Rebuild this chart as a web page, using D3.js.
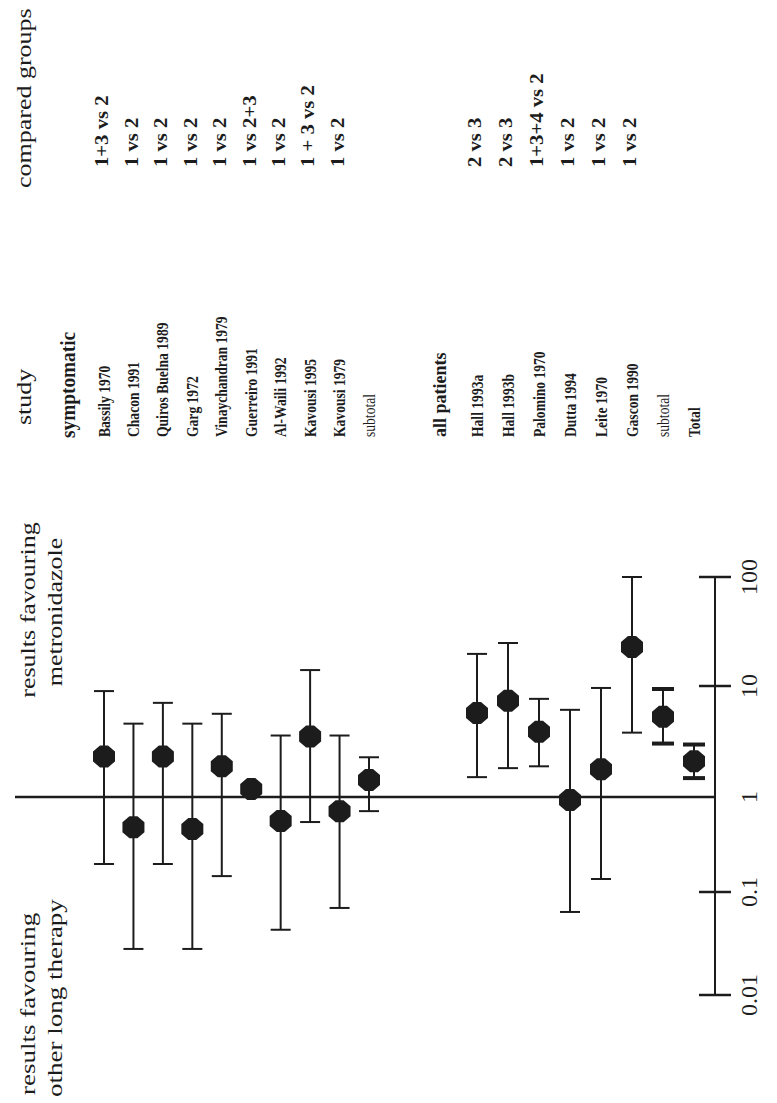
<!DOCTYPE html>
<html><head><meta charset="utf-8">
<script src="https://cdn.jsdelivr.net/npm/d3@7"></script>
<style>body{margin:0;background:#fff} svg{display:block}</style>
</head><body>
<svg id="c" width="777" height="1103"></svg>
<script>
// ---------- data ----------
const tickValues = [0.01, 0.1, 1, 10, 100];
const tickLabels = ["0.01", "0.1", "1", "10", "100"];

const sympStudies = ["Bassily 1970","Chacon 1991","Quiros Buelna 1989","Garg 1972","Vinaychandran 1979","Guerreiro 1991","Al-Waili 1992","Kavousi 1995","Kavousi 1979","subtotal"];
const sympGroups  = ["1+3 vs 2","1 vs 2","1 vs 2","1 vs 2","1 vs 2","1 vs 2+3","1 vs 2","1 + 3 vs 2","1 vs 2",""];
const sympEst = [2.32, 0.48, 2.32, 0.46, 1.89, 1.18, 0.56, 3.5, 0.71, 1.42];
const sympLo  = [0.197, 0.028, 0.197, 0.028, 0.147, 1.18, 0.043, 0.545, 0.07, 0.71];
const sympHi  = [9.0, 4.58, 7.05, 4.58, 5.62, 1.18, 3.58, 14.0, 3.58, 2.28];

const allStudies = ["Hall 1993a","Hall 1993b","Palomino 1970","Dutta 1994","Leite 1970","Gascon 1990","subtotal","Total"];
const allGroups  = ["2 vs 3","2 vs 3","1+3+4 vs 2","1 vs 2","1 vs 2","1 vs 2","",""];
const allEst = [5.7, 7.35, 3.88, 0.93, 1.78, 22.8, 5.29, 2.1];
const allLo  = [1.51, 1.82, 1.89, 0.064, 0.137, 3.8, 3.03, 1.48];
const allHi  = [19.7, 24.8, 7.66, 6.1, 9.6, 100, 9.4, 2.97];

const sectionTitles = ["symptomatic", "all patients"];
const columnHeaders = ["study", "compared groups"];
const favourTop = ["results favouring", "metronidazole"];
const favourBottom = ["results favouring", "other long therapy"];

// ---------- drawing ----------
const svg = d3.select("#c");
const ink = "#1c1c1c";
const font = "'Liberation Serif','Times New Roman',serif";

// value scale (vertical, scanned figure is rotated)
const y = d3.scaleLog().domain(tickValues).range([995, 892, 797, 686, 577]);
const axisX = 715;

const x1 = d3.scalePoint().domain(d3.range(sympStudies.length)).range([104, 369]);
const x2 = d3.scalePoint().domain(d3.range(allStudies.length)).range([477, 694]);

function rtext(g, x, yy, str, o) {
  o = o || {};
  return g.append("text")
    .attr("transform", `translate(${x},${yy}) rotate(-90) scale(${o.sx || 1},1)`)
    .attr("dy", "0.35em")
    .attr("text-anchor", o.anchor || "start")
    .attr("font-family", font)
    .attr("font-size", o.size || 14)
    .attr("font-weight", o.weight || "normal")
    .attr("fill", ink)
    .text(str);
}

const gText = svg.append("g");
// column headers
rtext(gText, 24, 425, columnHeaders[0], {size: 20, sx: 1.3});
rtext(gText, 24, 188, columnHeaders[1], {size: 20, sx: 1.3});

// favouring notes
rtext(gText, 28, 610, favourTop[0], {size: 20, sx: 1.3, anchor: "middle"});
rtext(gText, 55, 612, favourTop[1], {size: 20, sx: 1.3, anchor: "middle"});
rtext(gText, 28, 1095, favourBottom[0], {size: 20, sx: 1.35});
rtext(gText, 55, 1097, favourBottom[1], {size: 20, sx: 1.35});

// section titles
rtext(gText, x1(0) - 36, 438, sectionTitles[0], {size: 21, weight: "bold", sx: 0.92});
rtext(gText, x2(0) - 37, 437, sectionTitles[1], {size: 18, weight: "bold", sx: 1.0});

function studyBlock(xs, names, groups, est, lo, hi, heavySummary) {
  names.forEach((n, i) => {
    rtext(gText, xs(i), 437, n, {size: 16, sx: 0.85, weight: (n === "subtotal") ? "normal" : "bold"});
    if (groups[i]) rtext(gText, xs(i) - 2, 167, groups[i], {size: 18, weight: "bold", sx: 1.15});
  });
  const g = svg.append("g");
  names.forEach((n, i) => {
    const cx = xs(i);
    const heavy = heavySummary && (n === "subtotal" || n === "Total");
    const sw = heavy ? 4 : 2;
    const cw = heavy ? 11 : 10;
    g.append("line").attr("x1", cx).attr("x2", cx).attr("y1", y(lo[i])).attr("y2", y(hi[i]))
      .attr("stroke", ink).attr("stroke-width", 2);
    [lo[i], hi[i]].forEach(v => {
      g.append("line").attr("x1", cx - cw).attr("x2", cx + cw).attr("y1", y(v)).attr("y2", y(v))
        .attr("stroke", ink).attr("stroke-width", sw);
    });
  });
  return g;
}

// reference line at 1
svg.append("line").attr("x1", 15).attr("x2", axisX).attr("y1", y(1)).attr("y2", y(1))
  .attr("stroke", ink).attr("stroke-width", 2.5);

const gA = studyBlock(x1, sympStudies, sympGroups, sympEst, sympLo, sympHi, false);
const gB = studyBlock(x2, allStudies, allGroups, allEst, allLo, allHi, true);

// markers
const marker = "M-4,-11L4,-11L11,-5L11,5L4,11L-4,11L-11,5L-11,-5Z";
function drawMarkers(g, xs, est) {
  est.forEach((v, i) => {
    g.append("path").attr("d", marker)
      .attr("transform", `translate(${xs(i)},${y(v)})`)
      .attr("fill", ink);
  });
}
drawMarkers(gA, x1, sympEst);
drawMarkers(gB, x2, allEst);

// value axis
const gAx = svg.append("g");
gAx.append("line").attr("x1", axisX).attr("x2", axisX)
  .attr("y1", y(tickValues[0])).attr("y2", y(tickValues[tickValues.length - 1]))
  .attr("stroke", ink).attr("stroke-width", 2);
tickValues.forEach((t, i) => {
  if (t !== 1) {
    gAx.append("line").attr("x1", axisX - 16).attr("x2", axisX + 16)
      .attr("y1", y(t)).attr("y2", y(t)).attr("stroke", ink).attr("stroke-width", 2.5);
  }
  rtext(gAx, 749, y(t), tickLabels[i], {size: 24, anchor: "middle"});
});
</script>
</body></html>
